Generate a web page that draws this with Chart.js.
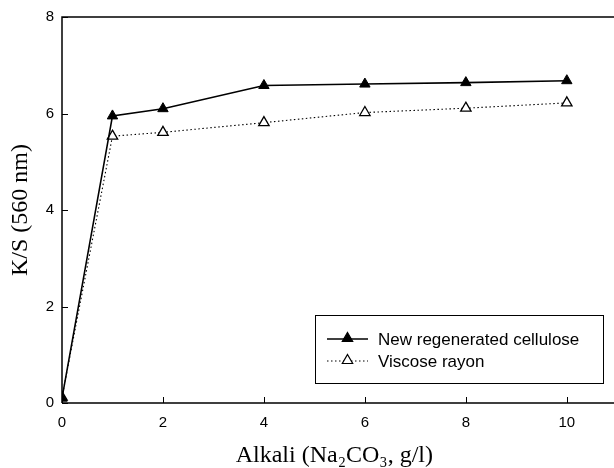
<!DOCTYPE html>
<html>
<head>
<meta charset="utf-8">
<script src="https://cdn.jsdelivr.net/npm/chart.js@4"></script>
<style>
html,body{margin:0;padding:0;background:#fff;}
#wrap{width:614px;height:468px;position:relative;}
</style>
</head>
<body>
<div id="wrap"><canvas id="c" width="614" height="468"></canvas></div>
<script>
const alkali = [0, 1, 2, 4, 6, 8, 10];
const newRegenerated = [0.10, 5.95, 6.10, 6.58, 6.61, 6.64, 6.68];
const viscoseRayon = [0.12, 5.53, 5.61, 5.81, 6.02, 6.11, 6.22];
const seriesNames = ["New regenerated cellulose", "Viscose rayon"];
const xTicks = [0, 2, 4, 6, 8, 10];
const yTicks = [0, 2, 4, 6, 8];

const toPts = (ys) => alkali.map((x, i) => ({x: x, y: ys[i]}));

function tri(ctx, cx, cy, r, fill) {
  ctx.beginPath();
  ctx.moveTo(cx, cy - r);
  ctx.lineTo(cx + r * 0.866, cy + r * 0.5);
  ctx.lineTo(cx - r * 0.866, cy + r * 0.5);
  ctx.closePath();
  ctx.fillStyle = fill;
  ctx.fill(); ctx.stroke();
}

const framePlugin = {
  id: 'frame',
  afterDatasetsDraw(chart) {
    const {ctx, chartArea: a, scales} = chart;
    const W = chart.width;
    ctx.save();
    ctx.strokeStyle = '#000';
    ctx.lineWidth = 1.5;
    ctx.beginPath();
    ctx.moveTo(a.left, a.bottom); ctx.lineTo(W, a.bottom);
    ctx.moveTo(a.left, a.bottom); ctx.lineTo(a.left, a.top);
    ctx.lineTo(W, a.top);
    ctx.stroke();
    ctx.lineWidth = 1;
    ctx.beginPath();
    xTicks.forEach(v => { const px = Math.round(scales.x.getPixelForValue(v)) + 0.5; ctx.moveTo(px, a.bottom); ctx.lineTo(px, a.bottom - 6); });
    yTicks.forEach(v => { const py = Math.round(scales.y.getPixelForValue(v)) + 0.5; ctx.moveTo(a.left, py); ctx.lineTo(a.left + 6, py); });
    ctx.stroke();

    // legend box
    const bx = 315, by = 315, bw = 288, bh = 68;
    ctx.lineWidth = 1;
    ctx.strokeRect(bx + 0.5, by + 0.5, bw, bh);
    ctx.font = '17px "Liberation Sans", Arial, sans-serif';
    ctx.fillStyle = '#000';
    ctx.textBaseline = 'middle';
    chart.data.datasets.forEach((ds, i) => {
      const yy = by + 24 + i * 22;
      const x0 = bx + 12, x1 = bx + 53, xm = (x0 + x1) / 2;
      ctx.save();
      ctx.lineWidth = ds.borderWidth;
      ctx.setLineDash(ds.borderDash || []);
      ctx.beginPath(); ctx.moveTo(x0, yy); ctx.lineTo(x1, yy); ctx.stroke();
      ctx.restore();
      ctx.save();
      ctx.setLineDash([]);
      ctx.lineWidth = 1.2;
      tri(ctx, xm, yy - 0.5, 6, ds.pointBackgroundColor);
      ctx.restore();
      ctx.fillStyle = '#000';
      ctx.fillText(ds.label, bx + 63, yy + 1);
    });
    ctx.restore();
  }
};

new Chart(document.getElementById('c'), {
  type: 'line',
  data: {
    datasets: [
      {
        label: seriesNames[0],
        data: toPts(newRegenerated),
        borderColor: '#000', borderWidth: 1.6,
        pointStyle: 'triangle', pointRadius: 6,
        pointBackgroundColor: '#000', pointBorderColor: '#000', pointBorderWidth: 1,
        tension: 0
      },
      {
        label: seriesNames[1],
        data: toPts(viscoseRayon),
        borderColor: '#000', borderWidth: 1.1, borderDash: [1.5, 2.5],
        pointStyle: 'triangle', pointRadius: 6,
        pointBackgroundColor: '#fff', pointBorderColor: '#000', pointBorderWidth: 1.3,
        tension: 0
      }
    ]
  },
  options: {
    responsive: false,
    animation: false,
    layout: {padding: {top: 16, right: 0, left: 0, bottom: 0}},
    plugins: {legend: {display: false}, tooltip: {enabled: false}},
    scales: {
      x: {
        type: 'linear', min: 0, max: 10.79,
        afterFit(s) { s.height = 65; },
        afterBuildTicks(s) { s.ticks = xTicks.map(v => ({value: v})); },
        grid: {display: false, drawTicks: false},
        border: {display: false},
        ticks: {color: '#000', padding: 11, font: {family: '"Liberation Sans", Arial, sans-serif', size: 15}, maxRotation: 0},
        title: {display: true, text: 'Alkali (Na\u2082CO\u2083, g/l)', color: '#000',
          font: {family: '"Liberation Serif", "Times New Roman", serif', size: 24, lineHeight: 1}, padding: {top: 6, bottom: 0}}
      },
      y: {
        min: 0, max: 8,
        afterFit(s) { s.width = 62; },
        afterBuildTicks(s) { s.ticks = yTicks.map(v => ({value: v})); },
        grid: {display: false, drawTicks: false},
        border: {display: false},
        ticks: {color: '#000', padding: 8, font: {family: '"Liberation Sans", Arial, sans-serif', size: 15}},
        title: {display: true, text: 'K/S (560 nm)', color: '#000',
          font: {family: '"Liberation Serif", "Times New Roman", serif', size: 24}, padding: {top: 6, bottom: 0}}
      }
    }
  },
  plugins: [framePlugin]
});
</script>
</body>
</html>
